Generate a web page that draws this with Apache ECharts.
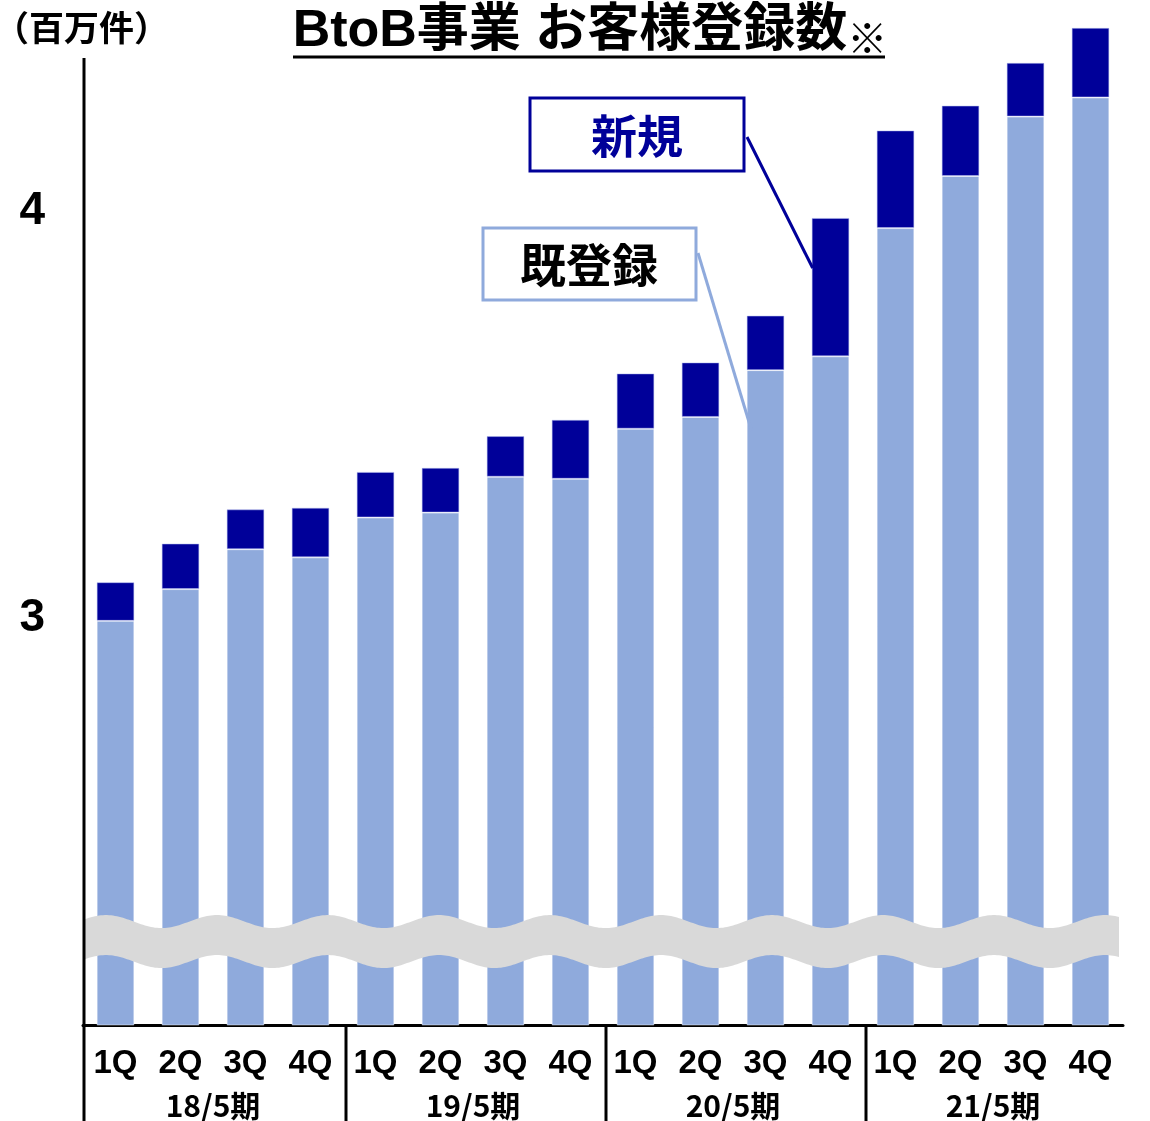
<!DOCTYPE html>
<html><head><meta charset="utf-8">
<script src="https://cdn.jsdelivr.net/npm/echarts@6/dist/echarts.min.js"></script>
<style>html,body{margin:0;padding:0;background:#fff}#c{width:1150px;height:1121px}</style>
</head><body><div id="c"></div>
<script>
const quarters = ['1Q','2Q','3Q','4Q','1Q','2Q','3Q','4Q','1Q','2Q','3Q','4Q','1Q','2Q','3Q','4Q'];
const periods = ['18/5期','19/5期','20/5期','21/5期'];
const existing = [2.993,3.071,3.169,3.149,3.247,3.259,3.347,3.342,3.465,3.494,3.609,3.643,3.958,4.086,4.232,4.279];
const newly = [0.095,0.112,0.098,0.122,0.112,0.110,0.100,0.145,0.136,0.134,0.134,0.340,0.240,0.173,0.132,0.171];
const yTicks = [3,4];

const NAVY = '#000099', LIGHT = '#8FAADC';
const FONT = "'Liberation Sans','Noto Sans CJK JP',sans-serif";
const JFONT = "'Noto Sans CJK JP','Liberation Sans',sans-serif";

const chart = echarts.init(document.getElementById('c'), null, {renderer:'canvas'});
chart.setOption({
  animation:false,
  backgroundColor:'#fff',
  grid:{left:83, right:27, top:7.5, bottom:96, containLabel:false},
  xAxis:[{
    type:'category', data:quarters, position:'bottom', gridIndex:0,
    axisLine:{show:true, lineStyle:{color:'#000', width:3}},
    axisTick:{show:false},
    axisLabel:{color:'#000', fontSize:33, fontWeight:'bold', fontFamily:FONT, margin:22, interval:0}
  },{
    type:'category', data:periods, position:'bottom', gridIndex:0,
    axisLine:{show:false}, axisTick:{show:false},
    axisLabel:{color:'#000', fontSize:30, fontWeight:'bold', fontFamily:JFONT, margin:66, interval:0}
  }],
  yAxis:{
    type:'value', min:2, max:4.5, interval:1,
    axisLine:{show:false}, axisTick:{show:false}, splitLine:{show:false},
    axisLabel:{color:'#000', fontSize:46, fontWeight:'bold', fontFamily:FONT, margin:38,
      formatter:v => yTicks.includes(v) ? String(v) : ''}
  },
  series:[
    {type:'bar', stack:'t', data:existing, barWidth:'58%', xAxisIndex:0,
     itemStyle:{color:LIGHT, borderColor:'rgba(255,255,255,0.45)', borderWidth:1}},
    {type:'bar', stack:'t', data:newly, barWidth:'58%', xAxisIndex:0,
     itemStyle:{color:NAVY, borderColor:'rgba(180,190,240,0.5)', borderWidth:1}}
  ]
});

// decorations computed from the axes
const px = (i, v) => chart.convertToPixel({gridIndex:0}, [i, v]);
const bottomY = px(0, 2)[1];
const x0 = px(0, 2)[0], x1 = px(1, 2)[0];
const band = x1 - x0;
const gridLeft = x0 - band / 2;
const barW = band * 0.58;

// wavy break band
const waveC = px(0, 2.205)[1];
const topPts = [], botPts = [];
for (let x = gridLeft + 2; x <= 1120; x += 2) {
  const t = waveC - 20 - 6.5 * Math.cos(2 * Math.PI * (x - 106) / 111);
  topPts.push([x, t]);
  botPts.unshift([x, t + 40]);
}
const wavePts = topPts.concat(botPts);

const elements = [];
elements.push({type:'polygon', z:100, shape:{points:wavePts}, style:{fill:'#D9D9D9'}, silent:true});
// left axis line extending into the table
elements.push({type:'line', z:110, shape:{x1:gridLeft+1, y1:58, x2:gridLeft+1, y2:1121}, style:{stroke:'#000', lineWidth:3}});
// group separators
[4, 8, 12].forEach(k => {
  const xs = (px(k - 1, 2)[0] + px(k, 2)[0]) / 2 + 3;
  elements.push({type:'line', z:110, shape:{x1:xs, y1:bottomY, x2:xs, y2:1121}, style:{stroke:'#000', lineWidth:3}});
});
// title
elements.push({type:'text', z:120, style:{
  x:590, y:32, textAlign:'center', textVerticalAlign:'middle',
  text:'{a|BtoB事業 お客様登録数}{b|※}',
  rich:{a:{fontSize:52, fontWeight:'bold', fontFamily:FONT, fill:'#000'},
        b:{fontSize:40, fontWeight:'bold', fontFamily:JFONT, fill:'#000', verticalAlign:'bottom'}}
}});
elements.push({type:'line', z:120, shape:{x1:293, y1:57, x2:885, y2:57}, style:{stroke:'#000', lineWidth:3}});
// unit
elements.push({type:'text', z:120, style:{x:-6, y:28, textAlign:'left', textVerticalAlign:'middle',
  text:'（百万件）', font:"bold 35px " + JFONT, fill:'#000'}});
// annotation boxes
elements.push({type:'rect', z:120, shape:{x:530, y:98, width:214, height:73}, style:{fill:'#fff', stroke:NAVY, lineWidth:3}});
elements.push({type:'text', z:121, style:{x:637, y:136, textAlign:'center', textVerticalAlign:'middle',
  text:'新規', font:"bold 46px " + JFONT, fill:NAVY}});
elements.push({type:'rect', z:120, shape:{x:483, y:228, width:213, height:72}, style:{fill:'#fff', stroke:LIGHT, lineWidth:3}});
elements.push({type:'text', z:121, style:{x:589, y:265, textAlign:'center', textVerticalAlign:'middle',
  text:'既登録', font:"bold 46px " + JFONT, fill:'#000'}});
// connectors
const p12 = px(11, 3.86);
elements.push({type:'line', z:115, shape:{x1:747, y1:137, x2:p12[0] - barW/2 + 1, y2:p12[1]}, style:{stroke:NAVY, lineWidth:3}});
const p11 = px(10, 3.46);
elements.push({type:'line', z:115, shape:{x1:698, y1:253, x2:p11[0] - barW/2 + 5, y2:p11[1]}, style:{stroke:LIGHT, lineWidth:3}});

chart.setOption({graphic:{elements}});
</script></body></html>
